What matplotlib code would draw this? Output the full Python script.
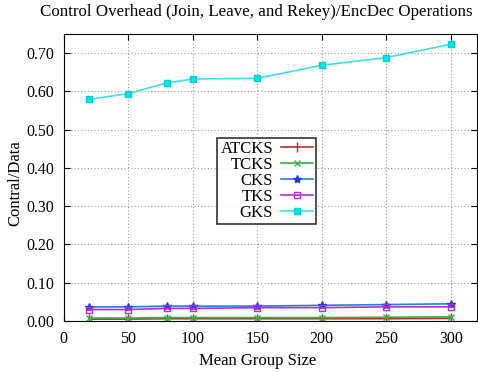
import matplotlib
matplotlib.use("Agg")
import matplotlib.pyplot as plt

plt.rcParams["font.family"] = ["Liberation Serif", "DejaVu Serif"]

group_sizes = [20, 50, 80, 100, 150, 200, 250, 300]
atcks = [0.005, 0.005, 0.006, 0.006, 0.006, 0.006, 0.006, 0.007]
tcks = [0.008, 0.008, 0.009, 0.009, 0.009, 0.009, 0.010, 0.011]
cks = [0.037, 0.037, 0.039, 0.039, 0.039, 0.041, 0.043, 0.045]
tks = [0.030, 0.030, 0.033, 0.033, 0.035, 0.035, 0.037, 0.037]
gks = [0.579, 0.594, 0.622, 0.632, 0.634, 0.668, 0.688, 0.723]

x_ticks = [0, 50, 100, 150, 200, 250, 300]
y_ticks = [0.0, 0.1, 0.2, 0.3, 0.4, 0.5, 0.6, 0.7]

W, H = 478, 372
fig = plt.figure(figsize=(W / 100, H / 100), dpi=100)
ax = fig.add_axes([0.133, 0.137, 0.864, 0.772])

# Линии серий
ax.plot(group_sizes, atcks, color="#b5312a", marker="|", markersize=7, linewidth=1.2, label="ATCKS")
ax.plot(group_sizes, tcks, color="#3cb043", marker="x", markersize=5, linewidth=1.2, label="TCKS")
ax.plot(group_sizes, cks, color="#2a7fd4", marker="*", markersize=6, markeredgecolor="#1a3fd0", markerfacecolor="#1a3fd0", linewidth=1.2, label="CKS")
ax.plot(group_sizes, tks, color="#b030e0", marker="s", markersize=5, markerfacecolor="none", linewidth=1.2, label="TKS")
ax.plot(group_sizes, gks, color="#40e0e0", marker="s", markersize=5, markerfacecolor="#00e5e5", markeredgecolor="#00d0d0", linewidth=1.2, label="GKS")

ax.set_xlim(0, 320)
ax.set_ylim(0, 0.75)
ax.set_xticks(x_ticks)
ax.set_yticks(y_ticks)
ax.set_yticklabels(["%.2f" % v for v in y_ticks])
ax.tick_params(direction="in", top=True, right=True, labelsize=11.5, length=4, pad=7)
ax.grid(True, color="#999999", linestyle=(0, (1, 2)), linewidth=0.8)

# Подписи как в gnuplot
fig.text(256 / W, 1 - 12 / H, "Control Overhead (Join, Leave, and Rekey)/EncDec Operations",
         fontsize=12.2, ha="center", va="center")
fig.text(258 / W, 1 - 361 / H, "Mean Group Size", fontsize=12, ha="center", va="center")
fig.text(15 / W, 1 - 183 / H, "Contral/Data", fontsize=12, ha="center", va="center", rotation=90)

leg = ax.legend(loc="upper left", bbox_to_anchor=(0.372, 0.638), markerfirst=False,
                fontsize=12, frameon=True, fancybox=False, edgecolor="black",
                handlelength=1.9, borderpad=0.2, labelspacing=0.0, handletextpad=0.5,
                borderaxespad=0)
leg.get_frame().set_linewidth(1.2)
for t in leg.get_texts():
    t.set_ha("right")

fig.savefig("out.png", dpi=100)
